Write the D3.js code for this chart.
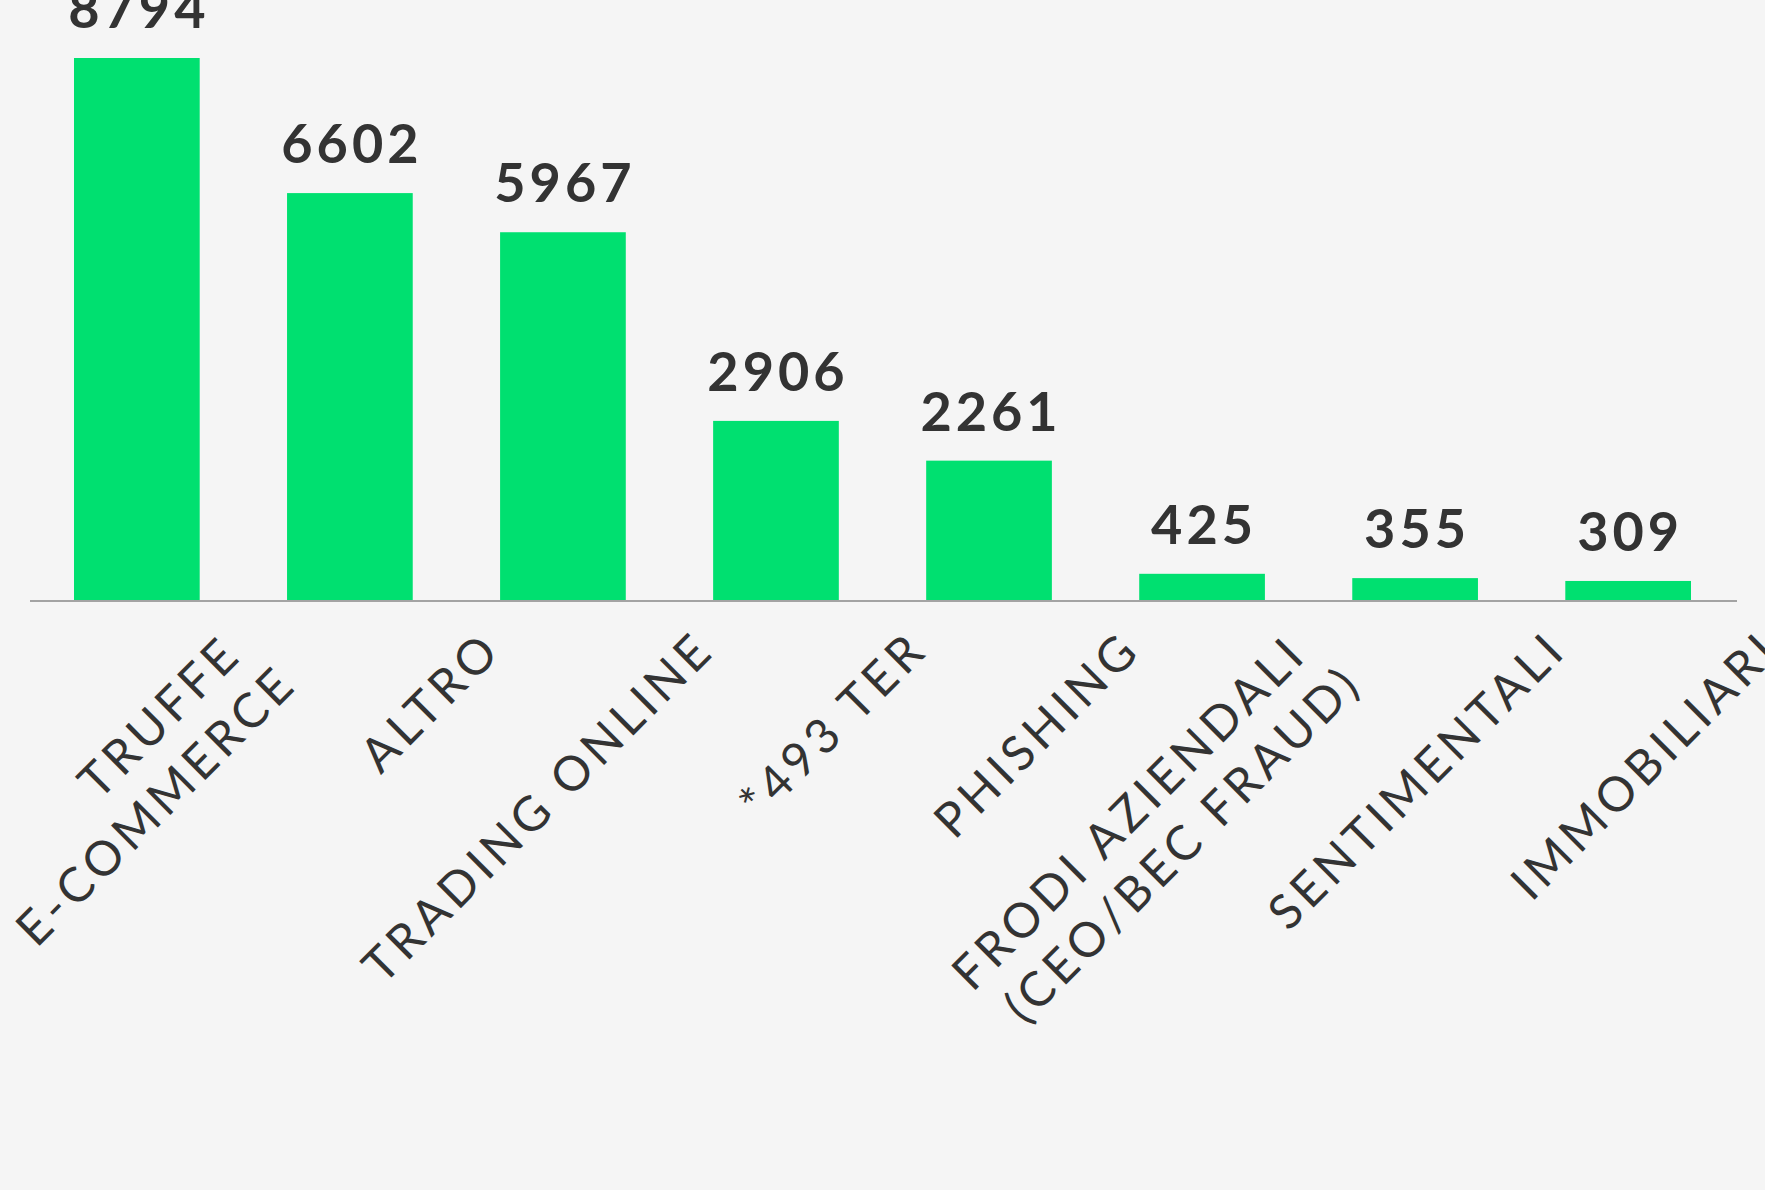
<!DOCTYPE html>
<html lang="it">
<head>
    <meta charset="utf-8">
    <title>Truffe online</title>
    <script src="https://d3js.org/d3.v7.min.js"></script>
    <style>
        body { margin: 0; background: #f5f5f5; }
        svg { display: block; }
    </style>
</head>
<body>
    <script>
        // data
        var categories = ["TRUFFE\nE-COMMERCE", "ALTRO", "TRADING ONLINE", "*493 TER", "PHISHING",
                          "FRODI AZIENDALI\n(CEO/BEC FRAUD)", "SENTIMENTALI", "IMMOBILIARI"];
        var values = [8794, 6602, 5967, 2906, 2261, 425, 355, 309];

        var width = 1765, height = 1190;
        var baseY = 600;

        var svg = d3.select('body')
            .append('svg')
            .attr('width', width)
            .attr('height', height);

        svg.append('rect')
            .attr('width', width)
            .attr('height', height)
            .attr('fill', '#f5f5f5');

        var x = d3.scaleBand()
            .domain(categories)
            .range([74, 1691])
            .paddingInner(0.41)
            .paddingOuter(0);

        var y = d3.scaleLinear()
            .domain([0, d3.max(values)])
            .range([baseY, 58]);

        var data = categories.map(function(c, i) { return {cat: c, val: values[i]}; });

        // bars
        svg.selectAll('rect.bar')
            .data(data)
            .join('rect')
            .attr('class', 'bar')
            .attr('x', function(d) { return x(d.cat); })
            .attr('y', function(d) { return y(d.val); })
            .attr('width', x.bandwidth())
            .attr('height', function(d) { return baseY - y(d.val); })
            .attr('fill', '#00e070');

        // baseline
        svg.append('line')
            .attr('x1', 30).attr('x2', 1737)
            .attr('y1', baseY + 1).attr('y2', baseY + 1)
            .attr('stroke', '#a3a3a3')
            .attr('stroke-width', 2);

        // value labels
        svg.selectAll('text.val')
            .data(data)
            .join('text')
            .attr('class', 'val')
            .attr('x', function(d) { return x(d.cat) + x.bandwidth() / 2 + 2; })
            .attr('y', function(d) { return y(d.val) - 30; })
            .attr('text-anchor', 'middle')
            .style('font-family', 'Lato, sans-serif')
            .style('font-weight', 700)
            .style('font-size', '54px')
            .style('letter-spacing', '4px')
            .style('fill', '#333')
            .text(function(d) { return d3.format('d')(d.val); });

        // rotated category labels
        var lineH = 60;
        var labels = svg.selectAll('text.cat')
            .data(data)
            .join('text')
            .attr('class', 'cat')
            .attr('transform', function(d) {
                return 'translate(' + (x(d.cat) + x.bandwidth() / 2 + 154) + ',' + (baseY + 52) + ') rotate(-45)';
            })
            .attr('text-anchor', 'end')
            .style('font-family', 'Lato, sans-serif')
            .style('font-weight', 400)
            .style('font-size', '48px')
            .style('letter-spacing', '5px')
            .style('fill', '#333');

        labels.each(function(d) {
            var lines = d.cat.split('\n');
            var n = lines.length;
            d3.select(this).selectAll('tspan')
                .data(lines)
                .join('tspan')
                .attr('x', function(l, i) { return n > 1 ? -36 + i * 18 : 0; })
                .attr('y', function(l, i) { return (i - (n - 1) / 2) * lineH; })
                .text(function(l) { return l; });
        });
    </script>
</body>
</html>
